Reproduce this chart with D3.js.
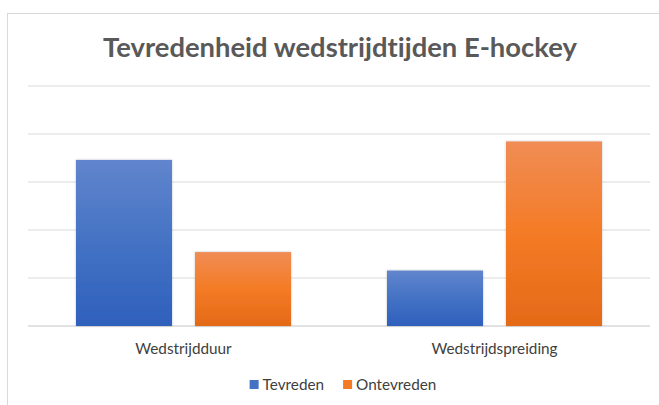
<!DOCTYPE html>
<html>
<head>
  <meta charset="UTF-8">
  <title>Tevredenheid wedstrijdtijden E-hockey</title>
  <script src="https://cdn.jsdelivr.net/npm/d3@7"></script>
  <style>
    body { margin: 0; background: #fff; }
    svg { display: block; font-family: Lato, "Open Sans", sans-serif; font-variant-ligatures: none; }
  </style>
</head>
<body>
  <svg id="chart" width="659" height="405"></svg>

  <script>
    // data (percentages per aspect)
    const categories = ['Wedstrijdduur', 'Wedstrijdspreiding'];
    const series = ['Tevreden', 'Ontevreden'];
    const tevreden = [69.2, 23.1];
    const ontevreden = [30.8, 76.9];
    const yTicks = [0, 20, 40, 60, 80, 100];

    // top, middle, bottom of the gradient
    const colors = {
      Tevreden: ['#6185cd', '#4472c4', '#2e60bc'],
      Ontevreden: ['#f08d55', '#f47b25', '#e46a18']
    };
    const legendColors = { Tevreden: '#4472c4', Ontevreden: '#f47b25' };

    const svg = d3.select('#chart');

    // chart area frame (cut off right and bottom, like the screenshot)
    svg.append('rect')
      .attr('x', 7.5).attr('y', 13.5)
      .attr('width', 700).attr('height', 420)
      .attr('fill', '#fff')
      .attr('stroke', '#d9d9d9').attr('stroke-width', 1);

    const x0 = d3.scaleBand().domain(categories).range([28, 650]);
    const x1 = d3.scaleBand().domain(series).range([48, 263]).paddingInner(0.193);
    const y = d3.scaleLinear().domain([0, 100]).range([326, 86]);

    // gradients for the bars
    const defs = svg.append('defs');
    series.forEach(s => {
      const g = defs.append('linearGradient')
        .attr('id', 'grad-' + s).attr('x1', 0).attr('y1', 0).attr('x2', 0).attr('y2', 1);
      g.append('stop').attr('offset', '0%').attr('stop-color', colors[s][0]);
      g.append('stop').attr('offset', '50%').attr('stop-color', colors[s][1]);
      g.append('stop').attr('offset', '100%').attr('stop-color', colors[s][2]);
    });
    const shadow = defs.append('filter').attr('id', 'shadow')
      .attr('x', -0.1).attr('y', -0.1).attr('width', 1.2).attr('height', 1.2);
    shadow.append('feDropShadow').attr('dx', 0).attr('dy', 0).attr('stdDeviation', 1.2)
      .attr('flood-color', '#000').attr('flood-opacity', 0.25);

    // gridlines
    svg.append('g').selectAll('line').data(yTicks).enter()
      .append('line')
        .attr('x1', 28).attr('x2', 650)
        .attr('y1', d => y(d)).attr('y2', d => y(d))
        .attr('stroke', '#d9d9d9')
        .attr('stroke-width', d => d === 0 ? 1.5 : 1);

    // bars
    const rows = categories.map((c, i) => ({ category: c, values: [
      { series: 'Tevreden', value: tevreden[i] },
      { series: 'Ontevreden', value: ontevreden[i] }
    ] }));

    const groups = svg.append('g').selectAll('g').data(rows).enter()
      .append('g').attr('transform', d => `translate(${x0(d.category)},0)`);

    groups.selectAll('rect').data(d => d.values).enter()
      .append('rect')
        .attr('x', d => x1(d.series))
        .attr('width', x1.bandwidth())
        .attr('y', d => y(d.value))
        .attr('height', d => y(0) - y(d.value))
        .attr('fill', d => `url(#grad-${d.series})`)
        .attr('filter', 'url(#shadow)');

    // category labels
    svg.append('g').selectAll('text').data(categories).enter()
      .append('text')
        .attr('x', d => x0(d) + x0.bandwidth() / 2)
        .attr('y', 354)
        .attr('text-anchor', 'middle')
        .attr('font-size', 15.3)
        .attr('fill', '#404040')
        .text(d => d);

    // title
    svg.append('text')
      .attr('x', 340).attr('y', 57)
      .attr('text-anchor', 'middle')
      .attr('font-size', 27.4)
      .attr('font-weight', 'bold')
      .attr('fill', '#595959')
      .text('Tevredenheid wedstrijdtijden E-hockey');

    // legend
    const legend = svg.append('g');
    const items = legend.selectAll('g').data(series).enter().append('g');
    items.append('rect')
      .attr('width', 9).attr('height', 9).attr('y', 380)
      .attr('fill', d => legendColors[d]);
    items.append('text')
      .attr('x', 13).attr('y', 390)
      .attr('font-size', 15.3)
      .attr('fill', '#404040')
      .text(d => d);

    let offset = 0;
    const widths = [];
    items.each(function() {
      const w = 13 + this.querySelector('text').getComputedTextLength();
      widths.push(w);
    });
    const total = d3.sum(widths) + 19 * (widths.length - 1);
    offset = 343 - total / 2;
    items.attr('transform', (d, i) => {
      const t = `translate(${offset},0)`;
      offset += widths[i] + 19;
      return t;
    });
  </script>
</body>
</html>
